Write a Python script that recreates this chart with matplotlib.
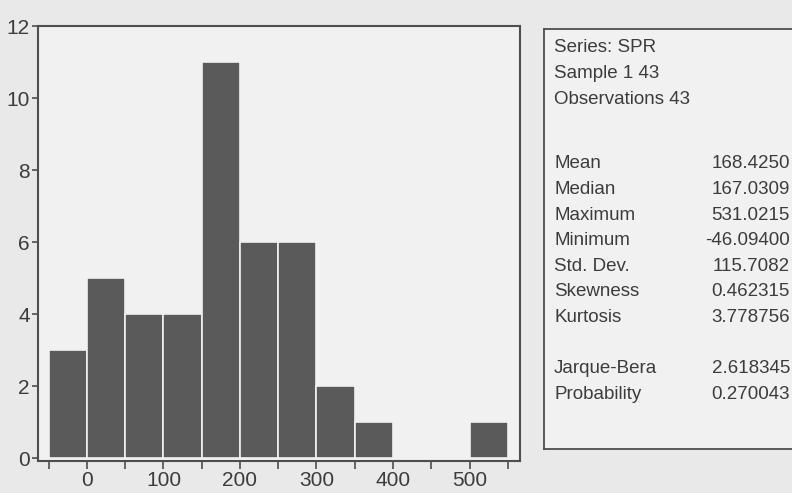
import numpy as np
import matplotlib.pyplot as plt
from matplotlib.ticker import MultipleLocator

plt.rcParams['font.family'] = ['Liberation Sans', 'DejaVu Sans']

# histogram of SPR, bins of width 50
bin_left = [-50, 0, 50, 100, 150, 200, 250, 300, 350, 400, 450, 500]
counts = [3, 5, 4, 4, 11, 6, 6, 2, 1, 0, 0, 1]
bin_width = 50

header = ['Series: SPR', 'Sample 1 43', 'Observations 43']
stat_names = ['Mean', 'Median', 'Maximum', 'Minimum', 'Std. Dev.',
              'Skewness', 'Kurtosis', '', 'Jarque-Bera', 'Probability']
stat_values = ['168.4250', '167.0309', '531.0215', '-46.09400', '115.7082',
               '0.462315', '3.778756', '', '2.618345', '0.270043']

paper = '#e9e9e9'
inner = '#f1f1f1'
bar_col = '#5a5a5a'
line_col = '#4e4e4e'
txt_col = '#3c3c3c'

W, H = 792, 493
fig = plt.figure(figsize=(W / 100, H / 100), dpi=100, facecolor=paper)

# main histogram axes
ax = fig.add_axes([38 / W, 1 - 461 / H, (520 - 38) / W, (461 - 26) / H])
ax.set_facecolor(inner)
ax.bar(bin_left, counts, width=bin_width, align='edge', color=bar_col,
       edgecolor=inner, linewidth=1.2, zorder=2)
ax.set_xlim(-64, 566)
ax.set_ylim(-0.08, 12)

ax.xaxis.set_major_locator(MultipleLocator(100))
ax.xaxis.set_minor_locator(MultipleLocator(50))
ax.yaxis.set_major_locator(MultipleLocator(2))
ax.set_xticks(np.arange(0, 501, 100))
ax.set_xticks(np.arange(-50, 551, 100), minor=True)
ax.tick_params(axis='x', which='both', direction='out', length=6, width=1.2,
               color=line_col, labelsize=15, labelcolor=txt_col, pad=1)
ax.tick_params(axis='y', direction='out', length=4, width=1.2,
               color=line_col, labelsize=15, labelcolor=txt_col, pad=2)
for s in ax.spines.values():
    s.set_color(line_col)
    s.set_linewidth(1.5)

# statistics panel, running off the right edge
box = fig.add_axes([544 / W, 1 - 449 / H, 0.5, (449 - 29) / H])
box.set_facecolor(inner)
box.set_xticks([])
box.set_yticks([])
for s in box.spines.values():
    s.set_color(line_col)
    s.set_linewidth(1.3)

def fy(py):
    return 1 - py / H

header_y = [45, 71, 97]
for t, py in zip(header, header_y):
    fig.text(554 / W, fy(py), t, fontsize=13.5, color=txt_col,
             va='center_baseline', ha='left')

row_y = 162
for name, val in zip(stat_names, stat_values):
    if name:
        fig.text(554 / W, fy(row_y), name, fontsize=13.5, color=txt_col,
                 va='center_baseline', ha='left')
        fig.text(790 / W, fy(row_y), val, fontsize=13.5, color=txt_col,
                 va='center_baseline', ha='right')
    row_y += 25.6

fig.savefig('out.png', dpi=100, facecolor=paper)
